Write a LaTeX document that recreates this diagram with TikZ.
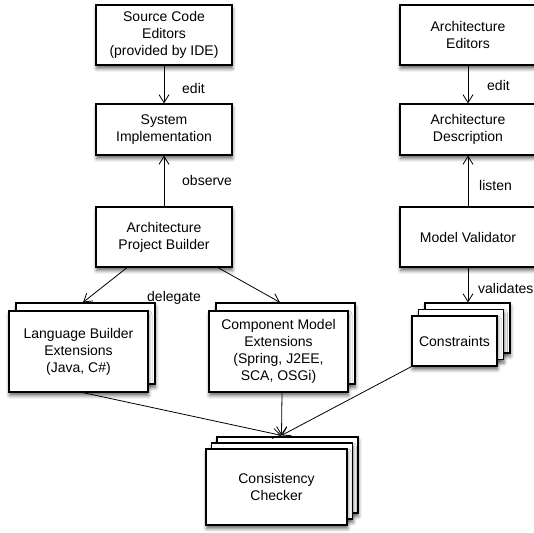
\documentclass[tikz,border=0pt]{standalone}
\usepackage{fontspec}
\setmainfont{Liberation Sans}
\usetikzlibrary{arrows.meta,calc,shadows.blur}

\tikzset{
  box/.style={draw=black, line width=1.2pt, fill=white, align=center,
    font=\fontsize{14}{17}\selectfont, inner sep=0pt,
    blur shadow={shadow xshift=0.5pt, shadow yshift=-3.5pt,
      shadow blur radius=3.5pt, shadow opacity=60}},
  layer/.style={box},
  lbl/.style={font=\fontsize{14}{17}\selectfont, anchor=west, inner sep=0pt},
  conn/.style={draw=black, line width=0.8pt,
    -{Straight Barb[length=8pt,width=10pt,line width=0.8pt]}},
}

\begin{document}
\begin{tikzpicture}[x=1pt,y=-1pt]
\useasboundingbox (0,0) rectangle (534,532);

% --- implementation side ---
\node[box, minimum width=136, minimum height=60] (sce) at (164,35)
  {Source Code\\Editors\\(provided by IDE)};
\node[box, minimum width=136, minimum height=51] (si) at (164,129.5)
  {System\\Implementation};
\node[box, minimum width=136, minimum height=60] (apb) at (164,237)
  {Architecture\\Project Builder};

% --- architecture side ---
\node[box, minimum width=136, minimum height=60] (ae) at (468,35)
  {Architecture\\Editors};
\node[box, minimum width=136, minimum height=51] (ad) at (468,129.5)
  {Architecture\\Description};
\node[box, minimum width=136, minimum height=60] (mv) at (468,237)
  {Model Validator};

% --- builder extensions (stack of two) ---
\node[layer, minimum width=139, minimum height=81] (lbe2) at (85.5,343.5) {};
\node[box, minimum width=139, minimum height=81] (lbe1) at (78.5,351.5)
  {Language Builder\\Extensions\\(Java, C\#)};

\node[layer, minimum width=139, minimum height=81] (cme2) at (285.5,343.5) {};
\node[box, minimum width=139, minimum height=81] (cme1) at (278.5,351.5)
  {Component Model\\Extensions\\(Spring, J2EE,\\SCA, OSGi)};

% --- constraints (stack of three) ---
\node[layer, minimum width=85, minimum height=50] (con3) at (467.5,328) {};
\node[layer, minimum width=85, minimum height=50] (con2) at (461,334.5) {};
\node[box, minimum width=85, minimum height=50] (con1) at (454.5,341)
  {Constraints};

% --- consistency checker (stack of three) ---
\node[layer, minimum width=141, minimum height=76] (cc3) at (287.5,475) {};
\node[layer, minimum width=141, minimum height=76] (cc2) at (282,481) {};
\node[box, minimum width=141, minimum height=76] (cc1) at (276.5,487)
  {Consistency\\Checker};

\coordinate (ccin) at ($(cc3.north)+(-6,-1)$);

% --- connectors ---
\draw[conn] (sce.south) -- (si.north);
\draw[conn] (apb.north) -- (si.south);
\draw[conn] (ae.south) -- (ad.north);
\draw[conn] (mv.north) -- (ad.south);
\draw[conn] (mv.south) -- (mv.south |- con3.north);
\draw[conn] ($(apb.south)+(-37,0)$) -- ($(lbe2.north)+(-2.5,0)$);
\draw[conn] ($(apb.south)+(54,0)$) -- ($(cme2.north)+(-5.5,0)$);
\draw[conn] ($(lbe1.south)+(4.5,0)$) -- (ccin);
\draw[conn] ($(cme1.south)+(3.5,0)$) -- (ccin);
\draw[conn] (con1.south west) -- (ccin);

% --- connector labels ---
\node[lbl] (l-edit1) at (182,88) {edit};
\node[lbl] (l-observe) at (182,180) {observe};
\node[lbl] (l-edit2) at (487,85) {edit};
\node[lbl] (l-listen) at (479,185) {listen};
\node[lbl] (l-validates) at (478,288) {validates};
\node[lbl] (l-delegate) at (147,298) {delegate};
\end{tikzpicture}
\end{document}
